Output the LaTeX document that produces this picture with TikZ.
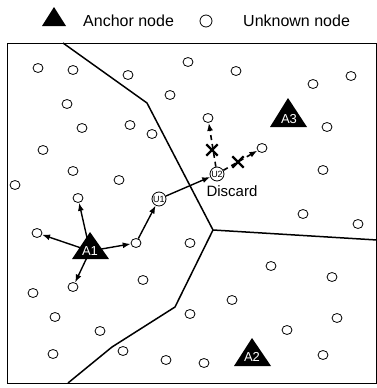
\documentclass[tikz,border=0pt]{standalone}
\usepackage{fontspec}
\setmainfont{Liberation Sans}
\usetikzlibrary{shapes.geometric,shapes.misc,arrows.meta}
\begin{document}
\begin{tikzpicture}[x=1pt,y=-1pt,
  unk/.style={draw,ellipse,line width=0.8pt,minimum width=10pt,minimum height=9pt,inner sep=0pt},
  unode/.style={draw,circle,line width=0.8pt,minimum size=14pt,inner sep=0pt,font=\fontsize{9}{9}\selectfont},
  anc/.style={fill=black},
  alab/.style={text=white,inner sep=1pt,font=\fontsize{13}{13}\selectfont},
  arr/.style={line width=1.4pt,-{Latex[length=8pt,width=6pt]}},
  darr/.style={line width=1.6pt,dash pattern=on 5pt off 4pt,-{Latex[length=8pt,width=6pt]}},
  xmark/.style={cross out,draw,line width=2.3pt,minimum size=9pt,inner sep=0pt},
  vline/.style={line width=1.5pt},
  leg/.style={anchor=west,inner sep=0pt,font=\fontsize{16}{18}\selectfont}
]
\useasboundingbox (0,0) rectangle (377,388);
% legend
\fill[anc] (54,7) -- (66,26) -- (42,26) -- cycle;
\node[leg] (lanchor) at (83,21) {Anchor node};
\node[draw,circle,line width=0.8pt,minimum size=12pt,inner sep=0pt] (lcirc) at (206,21) {};
\node[leg] (lunk) at (243,21) {Unknown node};
% frame
\draw[line width=1pt] (7,43) rectangle (376.5,383);
% partition lines
\coordinate (j) at (213,230);
\draw[vline] (63,43) -- (147,103) -- (j) -- (377,240);
\draw[vline] (j) -- (175,307) -- (112,347) -- (68,383);
% anchors
\fill[anc] (90,232) -- (109,259) -- (72,259) -- cycle;
\fill[anc] (252,338) -- (271,366) -- (234,366) -- cycle;
\fill[anc] (288,98) -- (307,127) -- (270,127) -- cycle;
\node[alab] (A1) at (90,251) {A1};
\node[alab] (A2) at (252,357) {A2};
\node[alab] (A3) at (289,119) {A3};
% unknown nodes
\foreach \n/\p in {c1/{(38,68)},c2/{(73,70)},c3/{(128,75)},c4/{(188,62)},c5/{(236,71)},
  c6/{(170,95)},c7/{(67,104)},c8/{(82,128)},c9/{(130,125)},c10/{(152,134)},c11/{(43,150)},
  c12/{(73,171)},c13/{(119,180)},c14/{(15,185)},c15/{(78,198)},c16/{(37,233)},c17/{(136,243)},
  c18/{(190,243)},c19/{(73,287)},c20/{(143,280)},c21/{(33,293)},c22/{(55,317)},c23/{(100,331)},
  c24/{(53,354)},c25/{(123,351)},c26/{(166,360)},c27/{(190,314)},c28/{(204,363)},c29/{(232,300)},
  c30/{(271,266)},c31/{(332,277)},c32/{(337,318)},c33/{(287,330)},c34/{(323,355)},c35/{(323,170)},
  c36/{(303,214)},c37/{(358,224)},c38/{(313,84)},c39/{(351,76)},c40/{(327,127)},c41/{(262,148)},
  c42/{(208,118)}}
  \node[unk] (\n) at \p {};
\node[unode] (U1) at (159,199) {U1};
\node[unode] (U2) at (217,174) {U2};
\node[anchor=north,inner sep=0pt,font=\fontsize{15}{16}\selectfont] (disc) at (232,185) {Discard};
% arrows
\draw[arr] (A1) -- (c15);
\draw[arr] (A1) -- (c16);
\draw[arr] (A1) -- (c17);
\draw[arr] (A1) -- (c19);
\draw[arr] (c17) -- (U1);
\draw[arr] (U1) -- (U2);
\draw[darr] (U2) -- (c42);
\draw[darr] (U2) -- (c41);
\node[xmark] (x1) at (212,150) {};
\node[xmark] (x2) at (238,162) {};
\end{tikzpicture}
\end{document}
